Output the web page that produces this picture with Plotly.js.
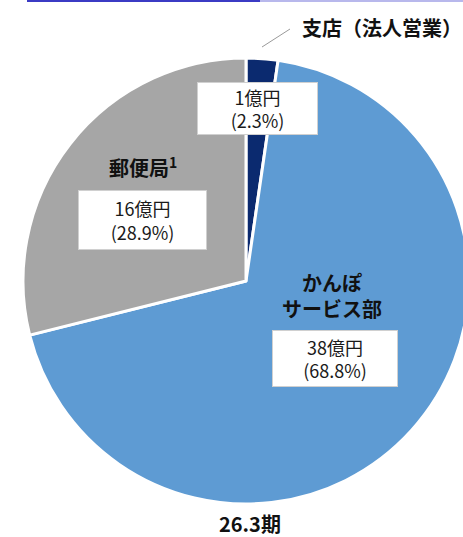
<!DOCTYPE html>
<html>
<head>
<meta charset="utf-8">
<script src="https://cdn.plot.ly/plotly-3.0.1.min.js"></script>
<style>
html,body{margin:0;padding:0;overflow:hidden;background:#fff;}
#chart{width:480px;height:537px;}
</style>
</head>
<body>
<div id="chart"></div>
<script>
// Data
var categories = ["支店（法人営業）", "かんぽ<br>サービス部", "郵便局<sup>1</sup>"];
var amounts = [1, 38, 16];            // 億円
var shares = [2.3, 68.8, 28.9];       // %
var periodLabel = "26.3期";
var sliceColors = ["#0b2a6f", "#5e9bd3", "#a6a6a6"];

// Layout helpers (pixel -> paper)
var W = 480, H = 537;
function px(x){ return x / W; }
function py(y){ return 1 - y / H; }

var FONT = "Noto Sans CJK JP";
var cx = 246, cy = 281, r = 223;

var trace = {
  type: "pie",
  labels: categories,
  values: shares,
  sort: false,
  direction: "clockwise",
  rotation: 0,
  textinfo: "none",
  hoverinfo: "none",
  showlegend: false,
  marker: { colors: sliceColors, line: { color: "#ffffff", width: 3 } },
  domain: { x: [px(cx - r), px(cx + r)], y: [py(cy + r), py(cy - r)] }
};

function valueText(i){ return amounts[i] + "億円<br>(" + shares[i].toFixed(1) + "%)"; }

var boxStyle = { font: { family: FONT, size: 18, color: "#1a1a1a" }, bgcolor: "#ffffff",
  bordercolor: "#d0d0d0", borderwidth: 1, borderpad: 1, showarrow: false,
  xref: "paper", yref: "paper", xanchor: "center", yanchor: "middle" };

function box(i, x, y, w, h){
  return Object.assign({}, boxStyle, { text: valueText(i), x: px(x), y: py(y), width: w, height: h });
}
function label(text, x, y, size, anchor){
  return { text: "<b>" + text + "</b>", x: px(x), y: py(y), xref: "paper", yref: "paper",
    xanchor: anchor || "center", yanchor: "middle", showarrow: false,
    font: { family: FONT, size: size, color: "#111111" } };
}

var annotations = [
  box(0, 257.5, 108.5, 117, 49),
  box(2, 142.5, 220, 125, 56),
  box(1, 335, 358.5, 122, 53),
  label(categories[2], 143, 167, 20),
  label(categories[1], 332, 295, 20),
  label(categories[0], 300, 27, 20, "left"),
  label(periodLabel, 250, 523, 20)
];

var shapes = [
  { type: "line", xref: "paper", yref: "paper", x0: px(262), y0: py(47), x1: px(290), y1: py(29),
    line: { color: "#9a9a9a", width: 1 } },
  { type: "line", xref: "paper", yref: "paper", x0: px(27), y0: py(1), x1: px(260), y1: py(1),
    line: { color: "#3b3bc4", width: 2 } },
  { type: "line", xref: "paper", yref: "paper", x0: px(260), y0: py(1), x1: px(463), y1: py(1),
    line: { color: "#b8b8ec", width: 2 } }
];

var layout = {
  width: W, height: H,
  margin: { l: 0, r: 0, t: 0, b: 0, pad: 0 },
  paper_bgcolor: "#ffffff",
  plot_bgcolor: "#ffffff",
  annotations: annotations,
  shapes: shapes
};

Plotly.newPlot("chart", [trace], layout, { staticPlot: true, displayModeBar: false });
</script>
</body>
</html>
